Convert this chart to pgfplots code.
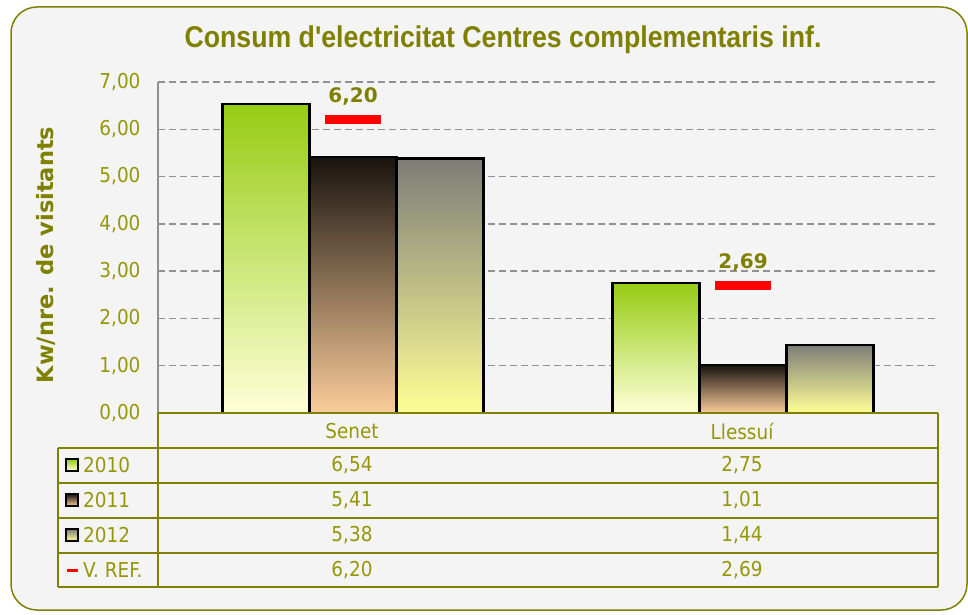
\documentclass[border=0pt]{standalone}
\usepackage{pgfplots}
\pgfplotsset{compat=1.18}
\usepackage{fontspec}
\setmainfont{DejaVu Sans Condensed}
\newfontfamily\titlefont{Liberation Sans}
\newfontfamily\widefont{DejaVu Sans}
\definecolor{olivet}{RGB}{128,128,0}
\definecolor{olivel}{RGB}{150,150,10}
\definecolor{bgc}{RGB}{244,244,244}
\definecolor{gridc}{RGB}{145,145,145}
\definecolor{gA1}{RGB}{150,204,20}
\definecolor{gA2}{RGB}{215,232,150}
\definecolor{gA3}{RGB}{255,255,215}
\definecolor{gB1}{RGB}{25,20,15}
\definecolor{gB2}{RGB}{140,105,80}
\definecolor{gB3}{RGB}{252,205,155}
\definecolor{gC1}{RGB}{125,125,120}
\definecolor{gC2}{RGB}{185,185,135}
\definecolor{gC3}{RGB}{255,255,150}
\newcommand{\tabfont}{\fontsize{20.5}{24}\selectfont}
\pgfplotsset{
  barA/.style={ybar, bar width=87pt, bar shift=-87pt, draw=black, line width=2.5pt,
    top color=gA1, middle color=gA2, bottom color=gA3},
  barB/.style={ybar, bar width=87pt, bar shift=0pt, draw=black, line width=2.5pt,
    top color=gB1, middle color=gB2, bottom color=gB3},
  barC/.style={ybar, bar width=87pt, bar shift=87pt, draw=black, line width=2.5pt,
    top color=gC1, middle color=gC2, bottom color=gC3},
}
\begin{document}
\begin{tikzpicture}[x=1pt,y=1pt]
\useasboundingbox (0,0) rectangle (968,614);
\fill[white] (0,0) rectangle (968,614);
\draw[olivet, line width=1.5pt, fill=bgc, rounded corners=26pt] (11,4) rectangle (967,607);
\node[font=\titlefont\bfseries\fontsize{30}{34}\selectfont, text=olivet] at (503,574) {\scalebox{0.89}[1]{Consum d'electricitat Centres complementaris inf.}};
\node[rotate=90, font=\widefont\bfseries\fontsize{22.5}{26}\selectfont, text=olivet] at (46,359) {Kw/nre. de visitants};

\begin{axis}[
  at={(158pt,201pt)}, anchor=south west, scale only axis,
  width=780pt, height=331pt,
  xmin=-0.5, xmax=1.5, ymin=0, ymax=7,
  xtick=\empty, ytick={0,1,...,7},
  axis y line*=left, axis x line*=bottom,
  x axis line style={draw=none},
  y axis line style={draw=gridc, line width=1.5pt},
  major tick length=0,
  ymajorgrids,
  grid style={draw=gridc, line width=1.3pt, dash pattern=on 7pt off 4pt},
  /pgf/number format/assume math mode=true,
  yticklabel={\pgfmathprintnumber[fixed,fixed zerofill,precision=2,use comma]{\tick}},
  yticklabel style={font=\tabfont, text=olivel, xshift=-14pt},
  clip=false,
]
% 2010
\addplot[barA] coordinates {(0,6.54)};
\addplot[barA] coordinates {(1,2.75)};
% 2011
\addplot[barB] coordinates {(0,5.41)};
\addplot[barB] coordinates {(1,1.01)};
% 2012
\addplot[barC] coordinates {(0,5.38)};
\addplot[barC] coordinates {(1,1.44)};
% V. REF.
\addplot[only marks, mark=-, mark size=28pt, mark options={draw=red, line width=9pt},
  point meta=y,
  nodes near coords={\pgfmathprintnumber[fixed,fixed zerofill,precision=2,use comma]{\pgfplotspointmeta}},
  every node near coord/.append style={anchor=center, yshift=23pt, font=\widefont\bfseries\fontsize{20}{24}\selectfont, text=olivet}]
  coordinates {(0,6.20) (1,2.69)};
\end{axis}

% data table
\begin{scope}[olivet, line width=2.8pt]
\draw (158,201) -- (938,201);
\draw (58,166) -- (938,166);
\draw (58,131) -- (938,131);
\draw (58,96) -- (938,96);
\draw (58,61) -- (938,61);
\draw (58,27) -- (938,27);
\draw (58,166) -- (58,27);
\draw (158,201) -- (158,27);
\draw (938,201) -- (938,27);
\end{scope}
\begin{scope}[every node/.style={font=\tabfont, text=olivel, inner sep=0pt}]
\node at (352,183) {Senet};
\node at (742,183) {Llessuí};
\node at (352,148.5) {6,54};
\node at (742,148.5) {2,75};
\node at (352,113.5) {5,41};
\node at (742,113.5) {1,01};
\node at (352,78.5) {5,38};
\node at (742,78.5) {1,44};
\node at (352,44) {6,20};
\node at (742,44) {2,69};
\node[anchor=west] at (83,148.5) {2010};
\node[anchor=west] at (83,113.5) {2011};
\node[anchor=west] at (83,78.5) {2012};
\node[anchor=west] at (83,44) {V. REF.};
\end{scope}
\shadedraw[draw=black, line width=1.8pt, top color=gA1, bottom color=gA3] (66,143) rectangle (78,155);
\shadedraw[draw=black, line width=1.8pt, top color=gB1, bottom color=gB3] (66,108) rectangle (78,120);
\shadedraw[draw=black, line width=1.8pt, top color=gC1, bottom color=gC3] (66,73) rectangle (78,85);
\draw[red, line width=3pt] (67,44) -- (78,44);
\end{tikzpicture}
\end{document}
